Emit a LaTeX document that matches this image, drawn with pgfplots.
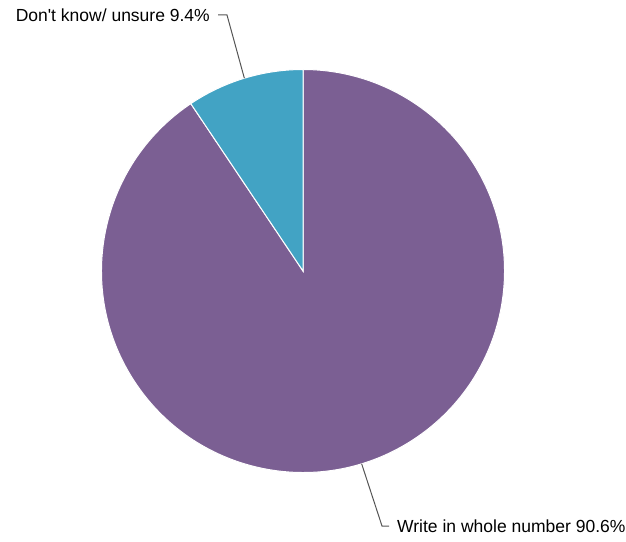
\documentclass[border=0pt]{standalone}
\usepackage{pgfplots}
\usepackage{pgfplotstable}
\pgfplotsset{compat=1.18}
\usepackage{fontspec}
\setmainfont{Liberation Sans}
\definecolor{piepurple}{HTML}{7B5F93}
\definecolor{pieblue}{HTML}{42A3C4}
\definecolor{leadergray}{HTML}{555555}
\pgfplotstableread{
label value
{Write in whole number} 90.6
{Don\textquotesingle t know/ unsure} 9.4
}\piedata
\begin{document}
\begin{tikzpicture}
\pgfplotstablegetelem{0}{value}\of\piedata \let\vA\pgfplotsretval
\pgfplotstablegetelem{1}{value}\of\piedata \let\vB\pgfplotsretval
\pgfplotstablegetelem{0}{label}\of\piedata \let\lA\pgfplotsretval
\pgfplotstablegetelem{1}{label}\of\piedata \let\lB\pgfplotsretval
\def\cx{303}\def\cy{270}\def\R{201.5}
\pgfmathsetmacro\total{\vA+\vB}
\pgfmathsetmacro\angB{90+360*\vB/\total}
\pgfmathsetmacro\midB{(90+\angB)/2}
\pgfmathsetmacro\midA{(\angB+450)/2}
\pgfmathsetmacro\sBx{\cx+\R*cos(\angB)}
\pgfmathsetmacro\sBy{\cy+\R*sin(\angB)}
\pgfmathsetmacro\tx{\cx}
\pgfmathsetmacro\ty{\cy+\R}
\pgfmathsetmacro\mBx{\cx+\R*cos(\midB)}
\pgfmathsetmacro\mBy{\cy+\R*sin(\midB)}
\pgfmathsetmacro\mAx{\cx+\R*cos(\midA)}
\pgfmathsetmacro\mAy{\cy+\R*sin(\midA)}
\begin{axis}[x=1pt,y=1pt,xmin=0,xmax=626,ymin=0,ymax=541,clip=false,scale only axis,
  hide axis,xtick=\empty,ytick=\empty,
  /pgf/number format/assume math mode=true]
\path (axis cs:0,0) (axis cs:626,541);
\fill[piepurple,draw=white,line width=1pt] (axis cs:\cx,\cy) -- (axis cs:\sBx,\sBy) arc[start angle=\angB, end angle=450, radius=\R pt] -- cycle;
\fill[pieblue,draw=white,line width=1pt] (axis cs:\cx,\cy) -- (axis cs:\tx,\ty) arc[start angle=90, end angle=\angB, radius=\R pt] -- cycle;
\draw[leadergray,line width=1pt] (axis cs:\mBx,\mBy) -- (axis cs:227,526) -- (axis cs:218,526);
\draw[leadergray,line width=1pt] (axis cs:\mAx,\mAy) -- (axis cs:382,15) -- (axis cs:389,15);
\node[anchor=east,inner sep=0pt,font=\fontsize{17.5}{20}\selectfont] at (axis cs:210,526) {\lB{} \pgfmathprintnumber[fixed,precision=1,fixed zerofill,assume math mode=true]{\vB}\%};
\node[anchor=west,inner sep=0pt,font=\fontsize{17.5}{20}\selectfont] at (axis cs:397,15) {\lA{} \pgfmathprintnumber[fixed,precision=1,fixed zerofill,assume math mode=true]{\vA}\%};
\end{axis}
\end{tikzpicture}
\end{document}
